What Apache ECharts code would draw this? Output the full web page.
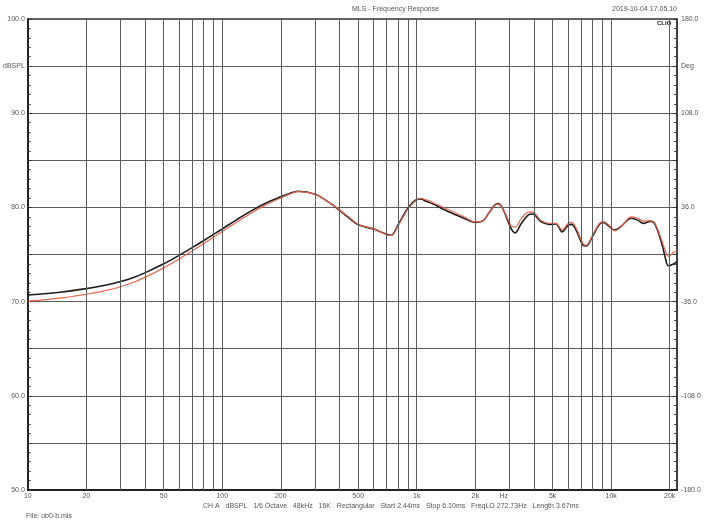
<!DOCTYPE html>
<html><head><meta charset="utf-8">
<script src="https://cdn.jsdelivr.net/npm/echarts@6/dist/echarts.min.js"></script>
<style>html,body{margin:0;padding:0;background:#fff}#c{width:705px;height:528px}</style>
</head><body><div id="c"></div>
<script>
const freqs = [10,15,20,25,30,35,40,50,60,70,80,90,100,120,141,170,200,220,245,300,362,400,450,500,600,700,740,800,900,1000,1050,1100,1200,1440,1750,2000,2200,2350,2600,2750,3050,3200,3450,3750,3950,4350,4800,5200,5600,6000,6250,6600,7150,7450,8000,8700,9100,10000,10400,11200,12700,13700,14600,15800,16700,18200,18900,19700,20900,21800];
const blackDb = [70.7,71.02,71.38,71.74,72.13,72.57,73.05,74.01,74.91,75.73,76.46,77.12,77.71,78.76,79.63,80.51,81.12,81.45,81.72,81.4,80.4,79.7,78.85,78.15,77.7,77.15,77.05,78.1,79.9,80.85,80.9,80.7,80.4,79.6,78.85,78.4,78.6,79.4,80.4,80.0,77.8,77.3,78.3,79.2,79.3,78.5,78.2,78.25,77.4,78.1,78.2,77.6,76.0,75.9,76.9,78.2,78.4,77.8,77.6,77.95,78.85,78.65,78.3,78.5,78.3,76.2,74.8,73.8,74.0,74.25];
const redDb = [70.05,70.4,70.78,71.17,71.58,72.05,72.57,73.58,74.53,75.38,76.14,76.83,77.43,78.5,79.41,80.35,81.0,81.38,81.68,81.4,80.4,79.75,78.95,78.2,77.75,77.1,77.0,78.0,79.8,80.8,80.95,80.85,80.55,79.8,79.0,78.45,78.6,79.4,80.35,80.0,78.1,77.9,78.8,79.5,79.5,78.6,78.3,78.3,77.6,78.3,78.4,77.8,76.2,76.0,77.0,78.3,78.5,77.9,77.5,77.9,79.0,78.85,78.55,78.6,78.4,76.5,75.5,74.8,75.2,75.4];
const gridFreqs = [20,30,40,50,60,70,80,90,100,200,300,400,500,600,700,800,900,1000,2000,3000,4000,5000,6000,7000,8000,9000,10000,20000];
const xTickLabels = [[10,'10'],[20,'20'],[50,'50'],[100,'100'],[200,'200'],[500,'500'],[1000,'1k'],[2000,'2k'],[2800,'Hz'],[5000,'5k'],[10000,'10k'],[20000,'20k']];
const leftLabels = {'100':'100.0','95':'dBSPL','90':'90.0','80':'80.0','70':'70.0','60':'60.0','50':'50.0'};
const rightLabels = {'180':'180.0','144':'Deg','108':'108.0','36':'36.0','-36':'-36.0','-108':'-108.0','-180':'-180.0'};
const titleText = 'MLS - Frequency Response';
const dateText = '2019-10-04 17.05.10';
const infoText = 'CH A   dBSPL   1/6 Octave   48kHz   16K   Rectangular   Start 2.44ms   Stop 6.10ms   FreqLO 272.73Hz   Length 3.67ms';
const fileText = 'File: ob0-b.mls';

const FONT = '"Liberation Sans", Arial, sans-serif';
const TXT = '#555';
const chart = echarts.init(document.getElementById('c'), null, {renderer:'canvas'});
const gridLineStyle = {color:'#5c5c5c', width:1, type:'solid'};
const option = {
  animation:false,
  backgroundColor:'#fff',
  grid:{left:26,right:28,top:19,bottom:38,show:true,borderColor:'#333',borderWidth:1.5,backgroundColor:'transparent'},
  xAxis:{type:'log',logBase:10,min:10,max:21800,
    axisLine:{show:true,onZero:false,lineStyle:{color:'#222',width:2}},
    axisTick:{show:false},axisLabel:{show:false},splitLine:{show:false},minorSplitLine:{show:false}},
  yAxis:[
    {type:'value',min:50,max:100,interval:5,position:'left',
      axisLine:{show:true,onZero:false,lineStyle:{color:'#222',width:2}},
      axisTick:{show:true,inside:true,length:4,lineStyle:{color:'#333'}},
      minorTick:{show:true,splitNumber:5,length:3,lineStyle:{color:'#444'}},
      splitLine:{show:true,lineStyle:gridLineStyle},
      axisLabel:{margin:3,fontSize:7,color:TXT,fontFamily:FONT,
        formatter:v=>leftLabels[String(v)]||''}},
    {type:'value',min:-180,max:180,interval:36,position:'right',
      axisLine:{show:true,onZero:false,lineStyle:{color:'#333',width:1.5}},
      axisTick:{show:true,inside:true,length:4,lineStyle:{color:'#333'}},
      minorTick:{show:true,splitNumber:5,length:3,lineStyle:{color:'#444'}},
      splitLine:{show:false},
      axisLabel:{margin:4,fontSize:7,color:TXT,fontFamily:FONT,
        formatter:v=>rightLabels[String(v)]||''}}
  ],
  series:[
    {type:'line',name:'grid',data:[],z:1,silent:true,
      markLine:{silent:true,symbol:['none','none'],animation:false,
        lineStyle:gridLineStyle,label:{show:false},
        data:gridFreqs.map(f=>({xAxis:f}))}},
    {type:'line',name:'labels',data:[],z:1,silent:true,clip:false,
      markLine:{silent:true,symbol:['none','none'],animation:false,
        lineStyle:{color:'transparent',width:1},
        label:{show:true,position:'start',distance:3,fontSize:7,color:TXT,fontFamily:FONT,
          formatter:p=>p.name},
        data:xTickLabels.map(t=>({xAxis:t[0],name:t[1]}))}},
    {type:'line',name:'black',z:3,showSymbol:false,smooth:0.35,
      lineStyle:{color:'#1c1c1c',width:1.6},
      data:freqs.map((f,i)=>[f,blackDb[i]])},
    {type:'line',name:'red',z:4,showSymbol:false,smooth:0.35,
      lineStyle:{color:'#e8664e',width:1.2},
      data:freqs.map((f,i)=>[f,redDb[i]])}
  ],
  graphic:[
    {type:'text',left:352,top:6,style:{text:titleText,fontSize:7,fill:TXT,fontFamily:FONT,textAlign:'center'}},
    {type:'text',right:28,top:6,style:{text:dateText,fontSize:7,fill:TXT,fontFamily:FONT}},
    {type:'text',left:657,top:20,style:{text:'CLIO',fontSize:6,fontWeight:'bold',fill:'#222',fontFamily:FONT}},
    {type:'text',left:203,top:503,style:{text:infoText,fontSize:7,fill:TXT,fontFamily:FONT}},
    {type:'text',left:26,top:513,style:{text:fileText,fontSize:7,fill:TXT,fontFamily:FONT}}
  ]
};
chart.setOption(option);
</script></body></html>
